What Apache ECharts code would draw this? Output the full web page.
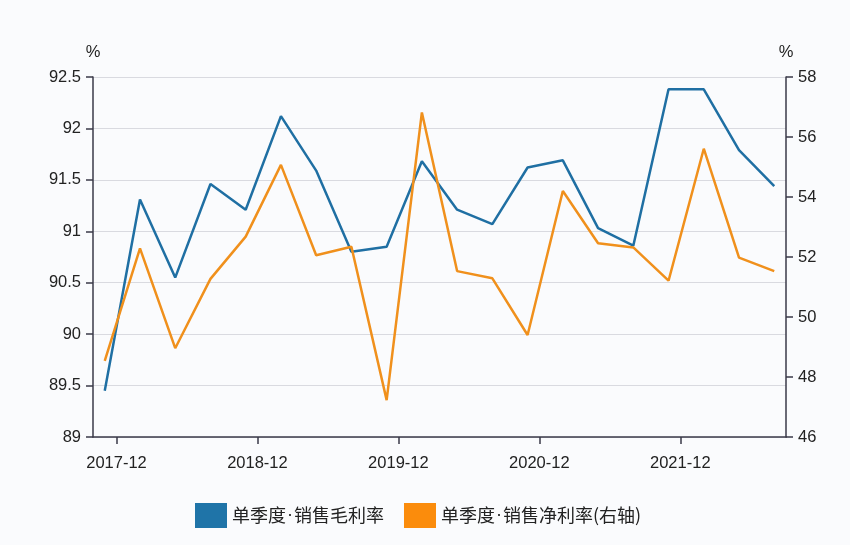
<!DOCTYPE html>
<html>
<head>
<meta charset="utf-8">
<script src="https://cdn.jsdelivr.net/npm/echarts@6/dist/echarts.min.js"></script>
<style>
html,body{margin:0;padding:0;background:#fafbfd;}
#chart{width:850px;height:545px;}
</style>
</head>
<body>
<div id="chart"></div>
<script>
// Month categories along the x axis (2017-10 .. 2022-09)
var months = [];
for (var y = 2017; y <= 2022; y++) {
  for (var m = 1; m <= 12; m++) {
    if ((y === 2017 && m < 10) || (y === 2022 && m > 9)) continue;
    months.push(y + '-' + (m < 10 ? '0' + m : '' + m));
  }
}
// Months at which each quarterly point sits
var quarters = ['2017-11','2018-02','2018-05','2018-08','2018-11','2019-02','2019-05','2019-08',
  '2019-11','2020-02','2020-05','2020-08','2020-11','2021-02','2021-05','2021-08',
  '2021-11','2022-02','2022-05','2022-08'];
var grossMargin = [89.45,91.31,90.55,91.46,91.21,92.12,91.59,90.80,90.85,91.68,
  91.21,91.07,91.62,91.69,91.03,90.86,92.38,92.38,91.79,91.44];
var netMargin = [48.54,52.29,48.96,51.27,52.68,55.07,52.06,52.34,47.23,56.82,
  51.53,51.29,49.40,54.20,52.46,52.32,51.21,55.61,51.98,51.53];
var seriesNames = ['单季度·销售毛利率', '单季度·销售净利率(右轴)'];

function pairs(vals) { return quarters.map(function (q, i) { return [q, vals[i]]; }); }

var axisColor = '#3a3a48';
var labelStyle = { color: '#222', fontSize: 16.5, fontFamily: 'Liberation Sans, Arial, sans-serif' };
var cjk = 'Noto Sans CJK SC, sans-serif';

var chart = echarts.init(document.getElementById('chart'));
chart.setOption({
  backgroundColor: '#fafbfd',
  animation: false,
  grid: { left: 93, right: 64, top: 77, bottom: 108 },
  legend: {
    left: 190, top: 498,
    icon: 'rect', itemWidth: 32, itemHeight: 25, itemGap: 20,
    formatter: function (name) {
      var parts = name.split('·');
      return '{c|' + parts[0] + '}{d|·}{c|' + parts[1] + '}';
    },
    textStyle: {
      fontSize: 18, color: '#222', fontFamily: cjk,
      rich: {
        c: { fontSize: 18, color: '#222', fontFamily: cjk },
        d: { fontSize: 18, color: '#222', fontFamily: 'Liberation Sans, Arial, sans-serif', padding: [0, 1] }
      }
    },
    data: seriesNames
  },
  xAxis: {
    type: 'category',
    data: months,
    boundaryGap: false,
    axisLine: { lineStyle: { color: axisColor, width: 1.5 } },
    axisTick: { length: 7, lineStyle: { color: axisColor, width: 1.5 },
      interval: function (i, v) { return /-12$/.test(v); } },
    axisLabel: Object.assign({ margin: 18,
      interval: function (i, v) { return /-12$/.test(v); } }, labelStyle),
    splitLine: { show: false }
  },
  yAxis: [{
    type: 'value', min: 89, max: 92.5, interval: 0.5,
    name: '%', nameGap: 16, nameTextStyle: Object.assign({ align: 'center' }, labelStyle),
    axisLine: { show: true, lineStyle: { color: axisColor, width: 1.5 } },
    axisTick: { show: true, length: 7, lineStyle: { color: axisColor, width: 1.5 } },
    axisLabel: Object.assign({ margin: 12 }, labelStyle),
    splitLine: { lineStyle: { color: '#d9dae0', width: 1.2 } }
  }, {
    type: 'value', min: 46, max: 58, interval: 2,
    name: '%', nameGap: 16, nameTextStyle: Object.assign({ align: 'center' }, labelStyle),
    axisLine: { show: true, lineStyle: { color: axisColor, width: 1.5 } },
    axisTick: { show: true, length: 7, lineStyle: { color: axisColor, width: 1.5 } },
    axisLabel: Object.assign({ margin: 12 }, labelStyle),
    splitLine: { show: false }
  }],
  series: [{
    name: seriesNames[0], type: 'line', yAxisIndex: 0,
    data: pairs(grossMargin), showSymbol: false, symbol: 'none',
    connectNulls: true,
    itemStyle: { color: '#1f74a8' },
    lineStyle: { color: '#1f6fa3', width: 2.5 }
  }, {
    name: seriesNames[1], type: 'line', yAxisIndex: 1,
    data: pairs(netMargin), showSymbol: false, symbol: 'none',
    connectNulls: true,
    itemStyle: { color: '#fb8c0c' },
    lineStyle: { color: '#f0901c', width: 2.5 }
  }]
});
</script>
</body>
</html>
